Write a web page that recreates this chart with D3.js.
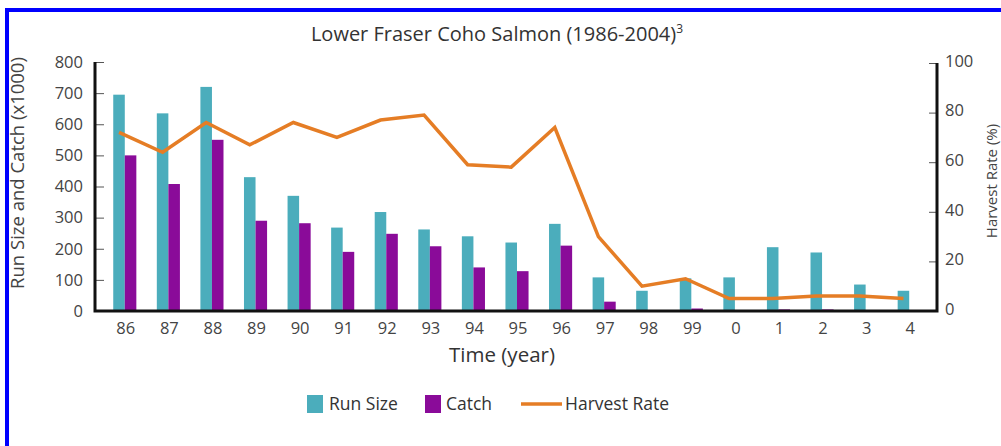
<!DOCTYPE html>
<html>
<head>
<meta charset="utf-8">
<script src="https://cdn.jsdelivr.net/npm/d3@7"></script>
<style>
  body { margin: 0; background: #fff; }
  svg { display: block; font-family: "Open Sans", "Noto Sans", sans-serif; }
</style>
</head>
<body>
<svg width="1001" height="446"></svg>
<script>
// years shown on the x axis
var years = ["86", "87", "88", "89", "90", "91", "92", "93", "94", "95",
             "96", "97", "98", "99", "0", "1", "2", "3", "4"];
// run size and catch, in thousands of fish
var runSize = [695, 635, 720, 430, 370, 268, 318, 262, 240, 220,
               280, 108, 65, 105, 108, 205, 188, 85, 65];
var catchVals = [500, 408, 550, 290, 282, 190, 248, 208, 140, 128,
                 210, 30, 3, 8, 2, 5, 5, 2, 2];
// harvest rate, percent
var harvestRate = [72, 64, 76, 67, 76, 70, 77, 79, 59, 58,
                   74, 30, 10, 13, 5, 5, 6, 6, 5];
var leftTicks = [0, 100, 200, 300, 400, 500, 600, 700, 800];
var rightTicks = [0, 20, 40, 60, 80, 100];

var teal = "#4badbc", purple = "#8a0b99", orange = "#e57d25";

var svg = d3.select("svg");

// blue frame, runs past the right and bottom edge
svg.append("rect")
   .attr("x", 7).attr("y", 10)
   .attr("width", 1010).attr("height", 460)
   .attr("fill", "none")
   .attr("stroke", "#0000ff")
   .attr("stroke-width", 4);

var x = d3.scaleBand()
   .domain(years)
   .range([103, 931])
   .paddingInner(0.47)
   .paddingOuter(0.235);

var yLeft = d3.scaleLinear().domain([0, 800]).range([311, 62]);
var yRight = d3.scaleLinear().domain([0, 100]).range([311, 63]);

var bw = x.bandwidth() / 2;

// bars
var g = svg.append("g");
g.selectAll("rect.run")
   .data(runSize)
   .enter().append("rect")
   .attr("class", "run")
   .attr("x", function(d, i){ return x(years[i]); })
   .attr("y", function(d){ return yLeft(d); })
   .attr("width", bw)
   .attr("height", function(d){ return yLeft(0) - yLeft(d); })
   .attr("fill", teal);

g.selectAll("rect.catch")
   .data(catchVals)
   .enter().append("rect")
   .attr("class", "catch")
   .attr("x", function(d, i){ return x(years[i]) + bw; })
   .attr("y", function(d){ return yLeft(d); })
   .attr("width", bw)
   .attr("height", function(d){ return yLeft(0) - yLeft(d); })
   .attr("fill", purple);

// harvest rate line
var line = d3.line()
   .x(function(d, i){ return x(years[i]) + bw / 2; })
   .y(function(d){ return yRight(d); });

svg.append("path")
   .datum(harvestRate)
   .attr("d", line)
   .attr("fill", "none")
   .attr("stroke", orange)
   .attr("stroke-width", 3.5)
   .attr("stroke-linejoin", "miter");

// axes
var leftAxis = d3.axisRight(yLeft).tickValues(leftTicks).tickSize(9).tickFormat("");
var la = svg.append("g").attr("transform", "translate(95,0)").call(leftAxis);
la.select(".domain").remove();
la.selectAll(".tick line").attr("stroke", "#555").attr("stroke-width", 1);

var rightAxis = d3.axisLeft(yRight).tickValues(rightTicks).tickSize(8).tickFormat("");
var ra = svg.append("g").attr("transform", "translate(937,0)").call(rightAxis);
ra.select(".domain").remove();
ra.selectAll(".tick line").attr("stroke", "#555").attr("stroke-width", 1);

// axis frame lines
svg.append("path")
   .attr("d", "M95," + yLeft(800) + "V" + yLeft(0) + "H937V" + yRight(100))
   .attr("fill", "none")
   .attr("stroke", "#111")
   .attr("stroke-width", 3);

// tick labels
svg.selectAll("text.ly")
   .data(leftTicks)
   .enter().append("text")
   .attr("x", 83)
   .attr("y", function(d){ return yLeft(d); })
   .attr("dy", "0.35em")
   .attr("text-anchor", "end")
   .attr("font-size", 16.5)
   .attr("fill", "#444")
   .text(function(d){ return d; });

svg.selectAll("text.ry")
   .data(rightTicks)
   .enter().append("text")
   .attr("x", 945)
   .attr("y", function(d){ return yRight(d) - 2; })
   .attr("dy", "0.35em")
   .attr("font-size", 16.5)
   .attr("fill", "#444")
   .text(function(d){ return d; });

svg.selectAll("text.xl")
   .data(years)
   .enter().append("text")
   .attr("x", function(d){ return x(d) + x.bandwidth() / 2 + 1; })
   .attr("y", 334)
   .attr("text-anchor", "middle")
   .attr("font-size", 16.5)
   .attr("fill", "#444")
   .text(function(d){ return d; });

// titles
var title = svg.append("text")
   .attr("x", 497).attr("y", 41)
   .attr("text-anchor", "middle")
   .attr("font-size", 20)
   .attr("fill", "#333")
   .text("Lower Fraser Coho Salmon (1986-2004)");
title.append("tspan")
   .attr("dy", -8)
   .attr("font-size", 12)
   .text("3");

svg.append("text")
   .attr("x", 502).attr("y", 362)
   .attr("text-anchor", "middle")
   .attr("font-size", 20.5)
   .attr("fill", "#333")
   .text("Time (year)");

svg.append("text")
   .attr("transform", "translate(24,173) rotate(-90)")
   .attr("text-anchor", "middle")
   .attr("font-size", 18.5)
   .attr("fill", "#444")
   .text("Run Size and Catch (x1000)");

svg.append("text")
   .attr("transform", "translate(997,181) rotate(-90)")
   .attr("text-anchor", "middle")
   .attr("font-size", 15)
   .attr("fill", "#444")
   .text("Harvest Rate (%)");

// legend
var legend = svg.append("g").attr("font-size", 17.5).attr("fill", "#333");
legend.append("rect").attr("x", 307).attr("y", 395).attr("width", 16).attr("height", 18).attr("fill", teal);
legend.append("text").attr("x", 329).attr("y", 410).text("Run Size");
legend.append("rect").attr("x", 425).attr("y", 395).attr("width", 16).attr("height", 18).attr("fill", purple);
legend.append("text").attr("x", 446).attr("y", 410).text("Catch");
legend.append("line").attr("x1", 521).attr("x2", 562).attr("y1", 404).attr("y2", 404)
   .attr("stroke", orange).attr("stroke-width", 3.5);
legend.append("text").attr("x", 565).attr("y", 410).text("Harvest Rate");
</script>
</body>
</html>
